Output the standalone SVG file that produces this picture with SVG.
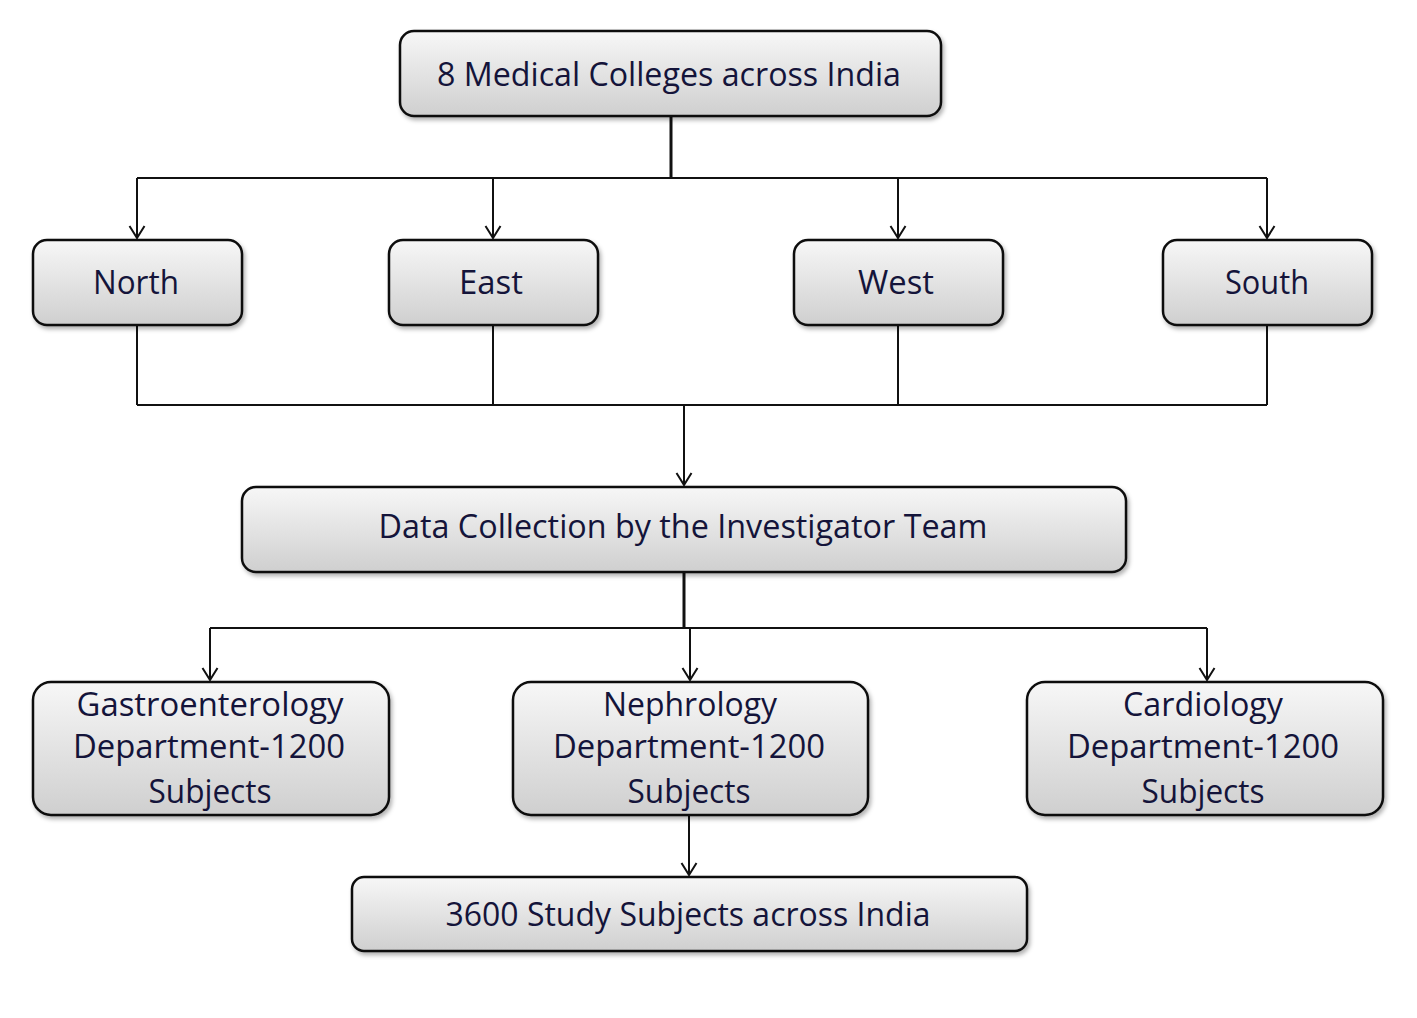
<svg xmlns="http://www.w3.org/2000/svg" width="1417" height="1018" viewBox="0 0 1417 1018">
<style>
.box{fill:url(#g);stroke:#111;stroke-width:2.5;filter:url(#sh)}
.t{font-family:"Open Sans","Liberation Sans",sans-serif;font-size:33px;font-weight:500;fill:#14143a;text-anchor:middle}
.c{fill:none;stroke:#111;stroke-width:2}
.k{stroke-width:3}
</style>
<defs>
<linearGradient id="g" x1="0" y1="0" x2="0" y2="1">
<stop offset="0" stop-color="#f7f7f7"/>
<stop offset="1" stop-color="#cfcfcf"/>
</linearGradient>
<filter id="sh" x="-5%" y="-10%" width="110%" height="130%">
<feDropShadow dx="2" dy="3" stdDeviation="2" flood-color="#000" flood-opacity="0.3"/>
</filter>
<marker id="a" markerWidth="16" markerHeight="18" refX="15" refY="9" orient="auto" markerUnits="userSpaceOnUse" viewBox="0 0 16 18">
<path d="M3,1.5 L15,9 L3,16.5" fill="none" stroke="#111" stroke-width="2"/>
</marker>
</defs>
<g id="connectors">
<path class="c k" d="M671,116 V178"/>
<path class="c" d="M137,178 H1267"/>
<path class="c" d="M137,178 V238" marker-end="url(#a)"/>
<path class="c" d="M493,178 V238" marker-end="url(#a)"/>
<path class="c" d="M898,178 V238" marker-end="url(#a)"/>
<path class="c" d="M1267,178 V238" marker-end="url(#a)"/>
<path class="c" d="M137,325 V405 M493,325 V405 M898,325 V405 M1267,325 V405 M137,405 H1267"/>
<path class="c" d="M684,405 V485" marker-end="url(#a)"/>
<path class="c k" d="M684,572 V628"/>
<path class="c" d="M210,628 H1207"/>
<path class="c" d="M210,628 V680" marker-end="url(#a)"/>
<path class="c" d="M690,628 V680" marker-end="url(#a)"/>
<path class="c" d="M1207,628 V680" marker-end="url(#a)"/>
<path class="c" d="M689,815 V875" marker-end="url(#a)"/>
</g>
<g id="n-top"><rect class="box" x="400" y="31" width="541" height="85" rx="14"/><text class="t" x="669" y="86" textLength="464" lengthAdjust="spacingAndGlyphs">8 Medical Colleges across India</text></g>
<g id="n-north"><rect class="box" x="33" y="240" width="209" height="85" rx="14"/><text class="t" x="136" y="294" textLength="86" lengthAdjust="spacingAndGlyphs">North</text></g>
<g id="n-east"><rect class="box" x="389" y="240" width="209" height="85" rx="14"/><text class="t" x="491" y="294" textLength="64" lengthAdjust="spacingAndGlyphs">East</text></g>
<g id="n-west"><rect class="box" x="794" y="240" width="209" height="85" rx="14"/><text class="t" x="896" y="294" textLength="76" lengthAdjust="spacingAndGlyphs">West</text></g>
<g id="n-south"><rect class="box" x="1163" y="240" width="209" height="85" rx="14"/><text class="t" x="1267" y="294" textLength="84" lengthAdjust="spacingAndGlyphs">South</text></g>
<g id="n-data"><rect class="box" x="242" y="487" width="884" height="85" rx="14"/><text class="t" x="683" y="538" textLength="609" lengthAdjust="spacingAndGlyphs">Data Collection by the Investigator Team</text></g>
<g id="n-gastro"><rect class="box" x="33" y="682" width="356" height="133" rx="18"/>
<text class="t" x="210" y="716" textLength="267" lengthAdjust="spacingAndGlyphs">Gastroenterology</text>
<text class="t" x="209" y="758" textLength="272" lengthAdjust="spacingAndGlyphs">Department-1200</text>
<text class="t" x="210" y="803" textLength="123" lengthAdjust="spacingAndGlyphs">Subjects</text></g>
<g id="n-nephro"><rect class="box" x="513" y="682" width="355" height="133" rx="18"/>
<text class="t" x="690" y="716" textLength="174" lengthAdjust="spacingAndGlyphs">Nephrology</text>
<text class="t" x="689" y="758" textLength="272" lengthAdjust="spacingAndGlyphs">Department-1200</text>
<text class="t" x="689" y="803" textLength="123" lengthAdjust="spacingAndGlyphs">Subjects</text></g>
<g id="n-cardio"><rect class="box" x="1027" y="682" width="356" height="133" rx="18"/>
<text class="t" x="1203" y="716" textLength="160" lengthAdjust="spacingAndGlyphs">Cardiology</text>
<text class="t" x="1203" y="758" textLength="272" lengthAdjust="spacingAndGlyphs">Department-1200</text>
<text class="t" x="1203" y="803" textLength="123" lengthAdjust="spacingAndGlyphs">Subjects</text></g>
<g id="n-final"><rect class="box" x="352" y="877" width="675" height="74" rx="12"/><text class="t" x="688" y="926" textLength="485" lengthAdjust="spacingAndGlyphs">3600 Study Subjects across India</text></g>
</svg>
